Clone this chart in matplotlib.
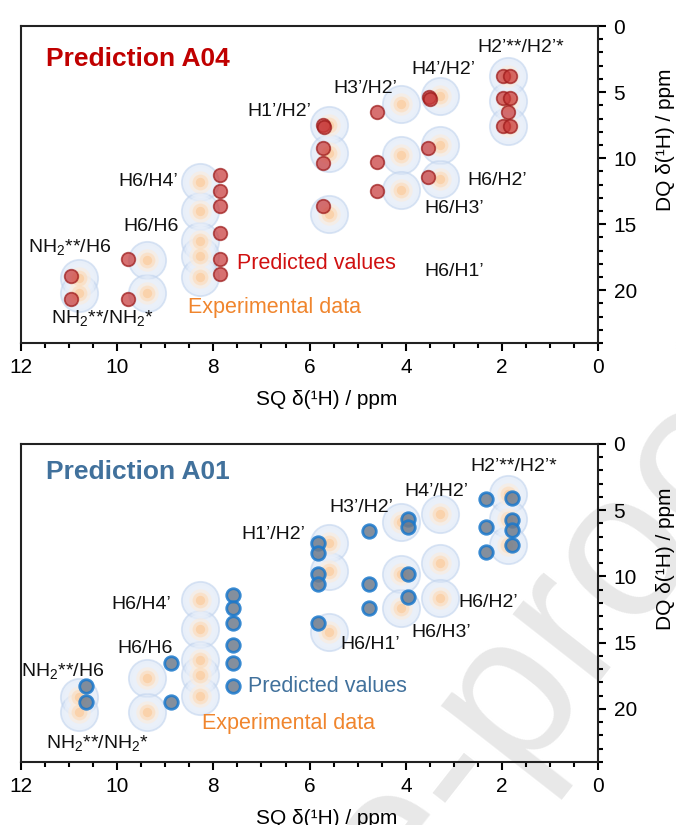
import numpy as np
import matplotlib.pyplot as plt
from matplotlib.ticker import MultipleLocator

plt.rcParams['font.family'] = ['Liberation Sans', 'DejaVu Sans']
plt.rcParams['mathtext.fontset'] = 'custom'
plt.rcParams['mathtext.rm'] = 'Liberation Sans'
plt.rcParams['mathtext.it'] = 'Liberation Sans:italic'

# experimental cross peaks (SQ, DQ) in ppm - same in both panels
exp_sq = [1.88, 1.88, 1.88, 3.30, 3.30, 3.30, 4.10, 4.10, 4.10, 5.60, 5.60, 5.60,
          8.28, 8.28, 8.28, 8.28, 8.28, 9.37, 9.37, 10.80, 10.80]
exp_dq = [3.8, 5.7, 7.6, 5.3, 9.0, 11.6, 5.9, 9.8, 12.4, 7.5, 9.6, 14.2,
          11.8, 14.0, 16.3, 17.4, 19.0, 17.7, 20.2, 19.1, 20.2]

# predicted peaks, model A04
a04_sq = [1.98, 1.84, 1.98, 1.84, 1.88, 1.98, 1.84, 3.51, 3.49, 3.53, 3.53,
          4.60, 4.60, 4.60, 5.72, 5.70, 5.72, 5.72, 5.72,
          7.86, 7.86, 7.86, 7.86, 7.86, 7.86, 9.77, 9.77, 10.96, 10.96]
a04_dq = [3.8, 3.8, 5.45, 5.45, 6.5, 7.55, 7.55, 5.4, 5.5, 9.25, 11.4,
          6.5, 10.3, 12.5, 7.5, 7.65, 9.2, 10.4, 13.6,
          11.3, 12.5, 13.6, 15.7, 17.6, 18.8, 17.65, 20.7, 18.9, 20.7]

# predicted peaks, model A01
a01_sq = [1.79, 1.79, 1.79, 1.79, 2.33, 2.33, 2.33, 3.96, 3.96, 3.96, 3.96,
          4.77, 4.77, 4.77, 5.82, 5.82, 5.82, 5.82, 5.82,
          7.59, 7.59, 7.59, 7.59, 7.59, 7.59, 8.88, 8.88, 10.65, 10.65]
a01_dq = [4.1, 5.75, 6.5, 7.6, 4.15, 6.3, 8.15, 5.7, 6.25, 9.8, 11.55,
          6.55, 10.6, 12.35, 7.5, 8.2, 9.8, 10.6, 13.5,
          11.4, 12.4, 13.5, 15.2, 16.5, 18.3, 16.5, 19.5, 18.3, 19.5]

nh_h6 = 'NH$_2$**/H6'
nh_nh = 'NH$_2$**/NH$_2$*'

fig = plt.figure(figsize=(6.76, 8.25), dpi=100)

# faint watermark behind both panels
fig.text(0.405, -0.225, 'Journal Pre-proof', fontsize=150, color='#e8e8e8',
         rotation=52, ha='center', va='center', rotation_mode='anchor', zorder=-1)

ax1 = fig.add_axes([0.031, 0.5842, 0.854, 0.3842])
ax2 = fig.add_axes([0.031, 0.0764, 0.854, 0.3855])


def draw_exp(ax):
    ax.scatter(exp_sq, exp_dq, s=720, color='#d9e5f6', alpha=0.6,
               edgecolors='#c2d4ee', linewidths=1.3, zorder=2)
    ax.scatter(exp_sq, exp_dq, s=480, color='#edf2fa', alpha=0.5, lw=0, zorder=2)
    ax.scatter(exp_sq, exp_dq, s=260, color='#fcecdc', alpha=0.6, lw=0, zorder=2)
    ax.scatter(exp_sq, exp_dq, s=130, color='#fcdcbb', alpha=0.65, lw=0, zorder=2)
    ax.scatter(exp_sq, exp_dq, s=45, color='#fbcc9e', alpha=0.7, lw=0, zorder=2)


def style(ax):
    ax.set_facecolor('none')
    ax.set_xlim(12, 0)
    ax.set_ylim(24, 0)
    ax.xaxis.set_major_locator(MultipleLocator(2))
    ax.xaxis.set_minor_locator(MultipleLocator(0.5))
    ax.yaxis.set_major_locator(MultipleLocator(5))
    ax.yaxis.set_minor_locator(MultipleLocator(1))
    ax.yaxis.tick_right()
    ax.yaxis.set_label_position('right')
    ax.tick_params(which='major', length=6, width=1.5, labelsize=15, pad=5)
    ax.tick_params(which='minor', length=3.5, width=1.5)
    ax.tick_params(axis='y', which='both', left=False, right=True)
    for sp in ax.spines.values():
        sp.set_linewidth(1.5)
        sp.set_color('#222222')
    ax.set_xlabel('SQ δ(¹H) / ppm', fontsize=15, labelpad=9, x=0.53)
    ax.set_ylabel('DQ δ(¹H) / ppm', fontsize=15, labelpad=14, y=0.64)


# ---- top panel: A04 ----
draw_exp(ax1)
ax1.scatter(a04_sq, a04_dq, s=95, color='#c83a3a', alpha=0.72,
            edgecolors='#9c1a1a', linewidths=1.3, zorder=3)
ax1.text(11.48, 2.5, 'Prediction A04', fontsize=19, fontweight='bold',
         color='#c00000', ha='left', va='center')
labels_a04 = [('H2’**/H2’*', 1.62, 1.6), ('H4’/H2’', 3.22, 3.3), ('H3’/H2’', 4.85, 4.7),
              ('H1’/H2’', 6.63, 6.5), ('H6/H4’', 9.36, 11.8), ('H6/H6', 9.3, 15.2),
              (nh_h6, 10.98, 16.7), (nh_nh, 10.3, 22.1), ('H6/H2’', 2.1, 11.7),
              ('H6/H3’', 3.0, 13.8), ('H6/H1’', 3.0, 18.6)]
for txt, x, y in labels_a04:
    ax1.text(x, y, txt, fontsize=14, ha='center', va='center', color='#111111')
ax1.text(7.5, 18.0, 'Predicted values', fontsize=15.5, color='#d01010', ha='left', va='center')
ax1.text(8.52, 21.3, 'Experimental data', fontsize=15.5, color='#f0852d', ha='left', va='center')
style(ax1)

# ---- bottom panel: A01 ----
draw_exp(ax2)
ax2.scatter(a01_sq, a01_dq, s=95, color='#6e7b8c', alpha=0.85,
            edgecolors='#1a78cc', linewidths=2.0, zorder=3)
ax2.text(11.48, 2.1, 'Prediction A01', fontsize=19, fontweight='bold',
         color='#41719c', ha='left', va='center')
labels_a01 = [('H2’**/H2’*', 1.75, 1.7), ('H4’/H2’', 3.37, 3.6), ('H3’/H2’', 4.93, 4.8),
              ('H1’/H2’', 6.75, 6.8), ('H6/H4’', 9.5, 12.1), ('H6/H6', 9.42, 15.4),
              (nh_h6, 11.13, 17.1), (nh_nh, 10.42, 22.6), ('H6/H2’', 2.29, 12.0),
              ('H6/H3’', 3.27, 14.2), ('H6/H1’', 4.74, 15.1)]
for txt, x, y in labels_a01:
    ax2.text(x, y, txt, fontsize=14, ha='center', va='center', color='#111111')
ax2.text(7.28, 18.3, 'Predicted values', fontsize=15.5, color='#41719c', ha='left', va='center')
ax2.text(8.24, 21.1, 'Experimental data', fontsize=15.5, color='#f0852d', ha='left', va='center')
style(ax2)

fig.savefig('out.png', dpi=100)
